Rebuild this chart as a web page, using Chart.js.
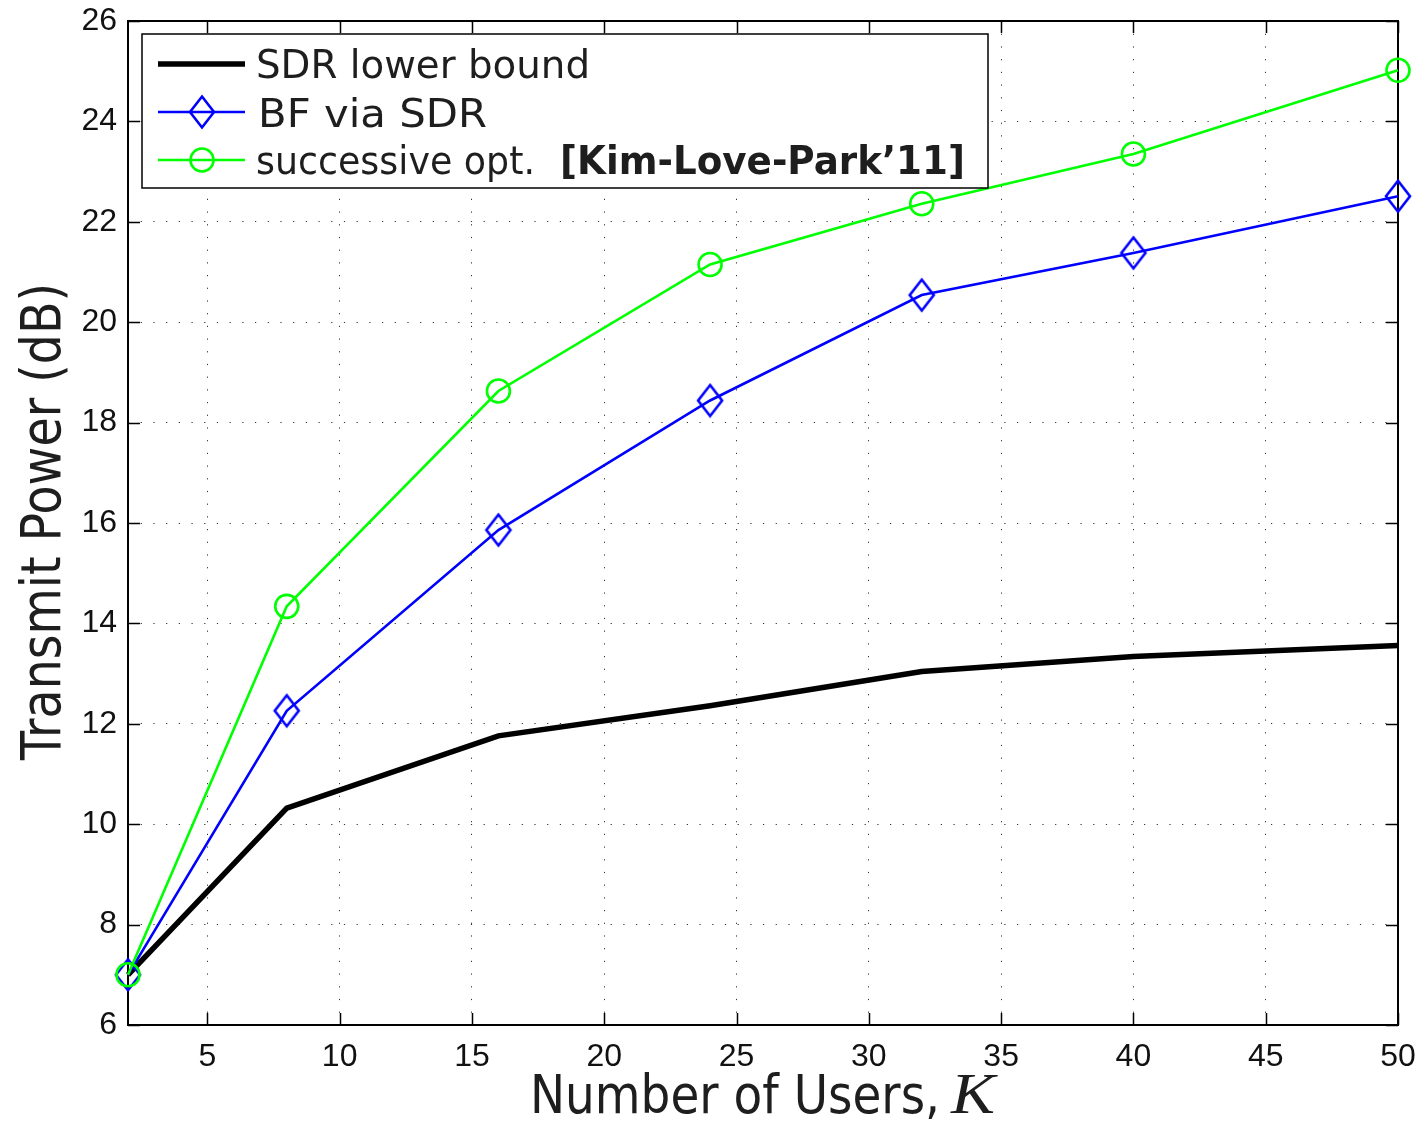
<!DOCTYPE html>
<html>
<head>
<meta charset="utf-8">
<script src="https://cdn.jsdelivr.net/npm/chart.js@4/dist/chart.umd.min.js"></script>
<style>
  html, body { margin: 0; padding: 0; background: #fff; }
  #wrap { width: 1424px; height: 1121px; position: relative; }
</style>
</head>
<body>
<div id="wrap"><canvas id="c"></canvas></div>
<script>
// ---- data ----
const users = [2, 8, 16, 24, 32, 40, 50];
const sdrLowerBound = [7.0, 10.32, 11.76, 12.36, 13.04, 13.34, 13.56];
const bfViaSdr = [7.0, 12.26, 15.86, 18.44, 20.54, 21.38, 22.51];
const successiveOpt = [7.0, 14.34, 18.63, 21.15, 22.36, 23.35, 25.02];
const xTicks = [5, 10, 15, 20, 25, 30, 35, 40, 45, 50];
const seriesNames = ['SDR lower bound', 'BF via SDR', 'successive opt.'];
const citation = '[Kim-Love-Park\u201911]';
const xTitle = 'Number of Users,';
const xTitleVar = 'K';
const yTitle = 'Transmit Power (dB)';

// ---- marker images ----
function diamondImg(color) {
  const c = document.createElement('canvas');
  c.width = 30; c.height = 36;
  const g = c.getContext('2d');
  g.strokeStyle = color; g.lineWidth = 2.6; g.lineJoin = 'miter';
  g.beginPath();
  g.moveTo(15, 2.5); g.lineTo(27, 18); g.lineTo(15, 33.5); g.lineTo(3, 18); g.closePath();
  g.stroke();
  return c;
}
const diamond = diamondImg('#0000ff');

const pts = (ys) => users.map((x, i) => ({x: x, y: ys[i]}));

const TEXT_FONT = '"DejaVu Sans", "Noto Sans", sans-serif';

function fitText(ctx, text, x, y, font, width) {
  ctx.save();
  ctx.font = font;
  const w = ctx.measureText(text).width;
  ctx.translate(x, y);
  ctx.scale(width / w, 1);
  ctx.textAlign = 'left';
  ctx.textBaseline = 'alphabetic';
  ctx.fillText(text, 0, 0);
  ctx.restore();
}

const decor = {
  id: 'decor',
  beforeDatasetsDraw(chart) {
    const {ctx, chartArea: a, scales: {x, y}} = chart;
    ctx.save();
    ctx.strokeStyle = '#000';
    ctx.lineWidth = 1.5;
    const tl = 12;
    ctx.beginPath();
    x.ticks.forEach(t => {
      const px = Math.round(x.getPixelForValue(t.value)) + 0.5;
      ctx.moveTo(px, a.bottom); ctx.lineTo(px, a.bottom - tl);
      ctx.moveTo(px, a.top); ctx.lineTo(px, a.top + tl);
    });
    y.ticks.forEach(t => {
      const py = Math.round(y.getPixelForValue(t.value)) + 0.5;
      ctx.moveTo(a.left, py); ctx.lineTo(a.left + tl, py);
      ctx.moveTo(a.right, py); ctx.lineTo(a.right - tl, py);
    });
    ctx.stroke();
    ctx.lineWidth = 2;
    ctx.strokeRect(a.left, a.top, a.right - a.left, a.bottom - a.top);
    ctx.restore();
  },
  afterDatasetsDraw(chart) {
    const {ctx} = chart;
    ctx.save();
    const bx = 142, by = 34, bw = 846, bh = 154;
    ctx.fillStyle = '#fff';
    ctx.fillRect(bx, by, bw, bh);
    ctx.strokeStyle = '#000';
    ctx.lineWidth = 1.5;
    ctx.strokeRect(bx, by, bw, bh);
    const rows = [64, 112, 160];
    const base = [78, 127, 174];
    const ds = chart.data.datasets;
    ctx.lineCap = 'butt';
    ctx.strokeStyle = ds[0].borderColor; ctx.lineWidth = ds[0].borderWidth;
    ctx.beginPath(); ctx.moveTo(158, rows[0]); ctx.lineTo(245, rows[0]); ctx.stroke();
    ctx.strokeStyle = ds[1].borderColor; ctx.lineWidth = ds[1].borderWidth;
    ctx.beginPath(); ctx.moveTo(158, rows[1]); ctx.lineTo(245, rows[1]); ctx.stroke();
    ctx.drawImage(diamond, 202 - diamond.width / 2, rows[1] - diamond.height / 2);
    ctx.strokeStyle = ds[2].borderColor; ctx.lineWidth = ds[2].borderWidth;
    ctx.beginPath(); ctx.moveTo(158, rows[2]); ctx.lineTo(245, rows[2]); ctx.stroke();
    ctx.beginPath(); ctx.arc(202, rows[2], 11.5, 0, Math.PI * 2); ctx.stroke();
    ctx.fillStyle = '#1e1e1e';
    fitText(ctx, seriesNames[0], 256, base[0], '39px ' + TEXT_FONT, 334);
    fitText(ctx, seriesNames[1], 258, base[1], '39px ' + TEXT_FONT, 229);
    fitText(ctx, seriesNames[2], 256, base[2], '39px ' + TEXT_FONT, 279);
    fitText(ctx, citation, 560, base[2], 'bold 39px ' + TEXT_FONT, 405);
    ctx.restore();
  },
  afterDraw(chart) {
    const {ctx} = chart;
    ctx.save();
    ctx.fillStyle = '#1e1e1e';
    fitText(ctx, xTitle, 530, 1113, '53px ' + TEXT_FONT, 410);
    fitText(ctx, xTitleVar, 951, 1113, 'italic 56px "Liberation Serif", "DejaVu Serif", serif', 44);
    ctx.save();
    ctx.translate(60, 760);
    ctx.rotate(-Math.PI / 2);
    fitText(ctx, yTitle, 0, 0, '55px ' + TEXT_FONT, 477);
    ctx.restore();
    ctx.restore();
  }
};

const ctx = document.getElementById('c').getContext('2d');
new Chart(ctx, {
  type: 'line',
  data: {
    datasets: [
      {
        label: seriesNames[0], data: pts(sdrLowerBound),
        borderColor: '#000000', borderWidth: 5.5, pointRadius: 0,
        tension: 0, order: 3, clip: false
      },
      {
        label: seriesNames[1], data: pts(bfViaSdr),
        borderColor: '#0000ff', borderWidth: 2.6, pointStyle: diamond,
        pointRadius: 12, tension: 0, order: 2, clip: false
      },
      {
        label: seriesNames[2] + ' ' + citation, data: pts(successiveOpt),
        borderColor: '#00ff00', backgroundColor: 'rgba(0,0,0,0)', borderWidth: 2.6,
        pointStyle: 'circle', pointRadius: 11.5, pointBorderWidth: 2.6,
        pointBackgroundColor: 'rgba(0,0,0,0)', pointBorderColor: '#00ff00',
        tension: 0, order: 1, clip: false
      }
    ]
  },
  options: {
    responsive: true,
    maintainAspectRatio: false,
    animation: false,
    events: [],
    layout: { padding: { top: 21, right: 26, left: 0, bottom: 0 } },
    plugins: { legend: { display: false }, tooltip: { enabled: false }, title: { display: false } },
    scales: {
      x: {
        type: 'linear', min: 2, max: 50,
        afterBuildTicks: (s) => { s.ticks = xTicks.map(v => ({value: v})); },
        afterFit: (s) => { s.height = 96; s.paddingLeft = 0; s.paddingRight = 0; },
        grid: { color: '#333', lineWidth: 1, drawTicks: false },
        border: { display: false, dash: [1.2, 11.5] },
        ticks: {
          padding: 13, color: '#111', maxRotation: 0, autoSkip: false,
          font: { family: '"Liberation Sans", Arial, sans-serif', size: 32 }
        }
      },
      y: {
        type: 'linear', min: 6, max: 26,
        afterFit: (s) => { s.width = 128; s.paddingTop = 0; s.paddingBottom = 0; },
        grid: { color: '#333', lineWidth: 1, drawTicks: false },
        border: { display: false, dash: [1.2, 11.5] },
        ticks: {
          stepSize: 2, padding: 11, color: '#111',
          font: { family: '"Liberation Sans", Arial, sans-serif', size: 32 }
        }
      }
    }
  },
  plugins: [decor]
});
</script>
</body>
</html>
